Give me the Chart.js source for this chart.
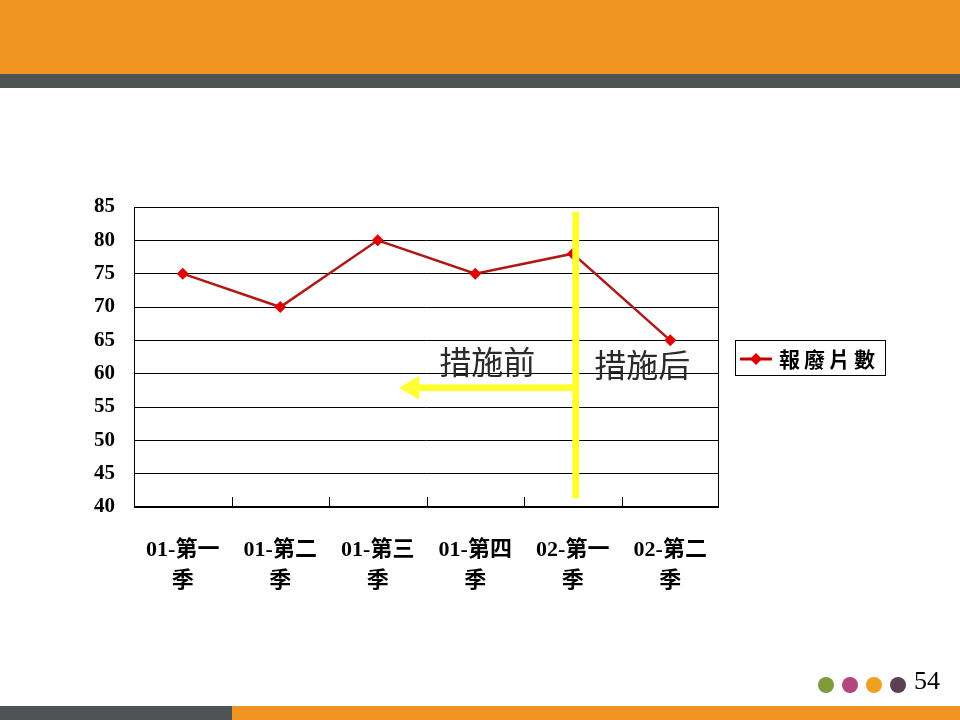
<!DOCTYPE html>
<html>
<head>
<meta charset="utf-8">
<script src="https://cdn.jsdelivr.net/npm/chart.js@4.4.1/dist/chart.umd.min.js"></script>
<style>
    html, body { margin: 0; padding: 0; background: #fff; }
    #page { position: relative; width: 960px; height: 720px; overflow: hidden; }
    .band { position: absolute; }
    #chartBox { position: absolute; left: 0; top: 0; width: 960px; height: 720px; }
</style>
</head>
<body>
<div id="page">
    <div class="band" style="left:0;top:0;width:960px;height:74px;background:#EF9421"></div>
    <div class="band" style="left:0;top:74px;width:960px;height:14px;background:#505354"></div>
    <div class="band" style="left:0;top:706px;width:232px;height:14px;background:#505354"></div>
    <div class="band" style="left:232px;top:706px;width:728px;height:14px;background:#EF9421"></div>
    <div id="chartBox"><canvas id="scrapChart"></canvas></div>
</div>
<script>
const quarters = [["01-第一", "季"], ["01-第二", "季"], ["01-第三", "季"], ["01-第四", "季"], ["02-第一", "季"], ["02-第二", "季"]];
const scrapCounts = [75, 70, 80, 75, 78, 65];
const seriesName = "報廢片數";
const yTicks = [40, 45, 50, 55, 60, 65, 70, 75, 80, 85];
const beforeLabel = "措施前";
const afterLabel = "措施后";
const pageNumber = "54";
const dotColors = ["#7F9A3B", "#B5457F", "#F0A020", "#5A3F55"];

// frame, inner tick marks, yellow divider/arrow, labels, legend, footer
const decorPlugin = {
    id: "decor",
    afterDatasetsDraw(chart) {
        const ctx = chart.ctx;
        const area = chart.chartArea;
        const x = chart.scales.x;
        const y = chart.scales.y;
        ctx.save();

        ctx.strokeStyle = "#000";
        ctx.lineWidth = 1;
        ctx.strokeRect(area.left + 0.5, area.top + 0.5, area.width - 1, area.height - 1);
        const step = x.getPixelForValue(1) - x.getPixelForValue(0);
        for (let i = 1; i < quarters.length; i++) {
            const px = Math.round(x.getPixelForValue(i) - step / 2) + 0.5;
            ctx.beginPath();
            ctx.moveTo(px, area.bottom);
            ctx.lineTo(px, area.bottom - 10);
            ctx.stroke();
        }

        // yellow divider
        const divX = x.getPixelForValue(4) + 3;
        ctx.strokeStyle = "#FFFF33";
        ctx.lineWidth = 7;
        ctx.beginPath();
        ctx.moveTo(divX, y.getPixelForValue(84.3));
        ctx.lineTo(divX, y.getPixelForValue(41.3));
        ctx.stroke();

        // arrow pointing left
        const arrowY = y.getPixelForValue(57.9);
        const tipX = x.getPixelForValue(2.22);
        ctx.lineWidth = 7;
        ctx.beginPath();
        ctx.moveTo(divX, arrowY);
        ctx.lineTo(tipX + 16, arrowY);
        ctx.stroke();
        ctx.fillStyle = "#FFFF33";
        ctx.beginPath();
        ctx.moveTo(tipX, arrowY);
        ctx.lineTo(tipX + 20, arrowY - 12);
        ctx.lineTo(tipX + 20, arrowY + 12);
        ctx.closePath();
        ctx.fill();

        ctx.fillStyle = "#2a2a2a";
        ctx.font = "32px 'Noto Sans CJK SC', sans-serif";
        ctx.textBaseline = "middle";
        ctx.textAlign = "left";
        ctx.fillText(beforeLabel, x.getPixelForValue(2.63), y.getPixelForValue(61.7));
        ctx.fillText(afterLabel, x.getPixelForValue(4.22), y.getPixelForValue(61.3));

        // legend
        const lx = 735, ly = 340;
        ctx.strokeStyle = "#000";
        ctx.lineWidth = 1;
        ctx.strokeRect(lx + 0.5, ly + 0.5, 150, 35);
        ctx.strokeStyle = "#C00000";
        ctx.lineWidth = 3;
        ctx.beginPath();
        ctx.moveTo(lx + 5, ly + 19);
        ctx.lineTo(lx + 37, ly + 19);
        ctx.stroke();
        ctx.fillStyle = "#E00000";
        ctx.beginPath();
        ctx.moveTo(lx + 21, ly + 13);
        ctx.lineTo(lx + 27, ly + 19);
        ctx.lineTo(lx + 21, ly + 25);
        ctx.lineTo(lx + 15, ly + 19);
        ctx.closePath();
        ctx.fill();
        ctx.fillStyle = "#000";
        ctx.font = "bold 21px 'Noto Sans CJK TC', serif";
        ctx.letterSpacing = "4px";
        ctx.fillText(seriesName, lx + 44, ly + 19);
        ctx.letterSpacing = "0px";

        // footer dots and page number
        dotColors.forEach((c, i) => {
            ctx.fillStyle = c;
            ctx.beginPath();
            ctx.arc(826 + i * 24, 685, 8, 0, Math.PI * 2);
            ctx.fill();
        });
        ctx.fillStyle = "#000";
        ctx.font = "26px 'Liberation Serif', serif";
        ctx.fillText(pageNumber, 914, 682);
        ctx.restore();
    }
};

new Chart(document.getElementById("scrapChart"), {
    type: "line",
    data: {
        labels: quarters,
        datasets: [{
            label: seriesName,
            data: scrapCounts,
            borderColor: "#B01818",
            borderWidth: 2.5,
            backgroundColor: "#E00000",
            pointStyle: "rectRot",
            pointRadius: 6,
            pointBorderWidth: 0,
            pointBackgroundColor: "#E00000",
            tension: 0,
        }],
    },
    options: {
        responsive: true,
        maintainAspectRatio: false,
        animation: false,
        layout: { padding: { left: 0, top: 207, right: 241, bottom: 0 } },
        plugins: {
            legend: { display: false },
            tooltip: { enabled: false },
        },
        scales: {
            x: {
                offset: true,
                grid: { display: false },
                border: { display: false },
                ticks: {
                    padding: 20,
                    color: "#000",
                    font: { family: "'Liberation Serif', 'Noto Sans CJK TC', serif", size: 22, weight: "bold", lineHeight: 1.4 },
                    maxRotation: 0,
                },
                afterFit(scale) { scale.height = 213; },
            },
            y: {
                min: 40,
                max: 85,
                afterBuildTicks(scale) { scale.ticks = yTicks.map(v => ({ value: v })); },
                grid: { color: "#000", drawTicks: false },
                border: { display: false },
                ticks: {
                    padding: 19,
                    color: "#000",
                    font: { family: "'Liberation Serif', serif", size: 21, weight: "bold" },
                },
                afterFit(scale) { scale.width = 134; },
            },
        },
    },
    plugins: [decorPlugin],
});
</script>
</body>
</html>
